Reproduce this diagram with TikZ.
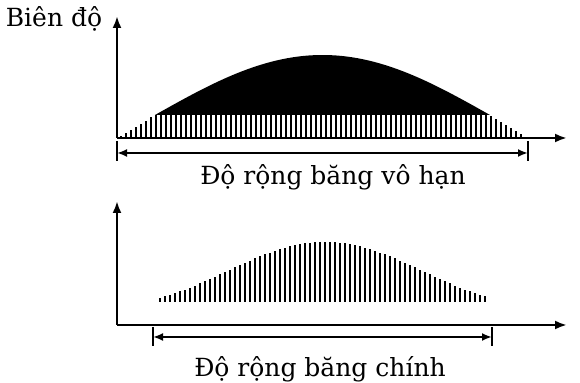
\documentclass[tikz,border=0pt]{standalone}
\usepackage{fontspec}
\setmainfont{DejaVu Serif}
\usetikzlibrary{arrows.meta, positioning, calc}

\begin{document}
\begin{tikzpicture}[>={Latex[length=5pt,width=4pt]}, x=0.5pt, y=-0.5pt,
    axis/.style={line width=1.3pt, -{Latex[length=6pt,width=4.5pt]}},
    bar/.style={line width=1.3pt},
    dim/.style={line width=1pt, <->},
    endtick/.style={line width=0.8pt},
    lbl/.style={font=\fontsize{12.5}{14}\selectfont, inner sep=0pt, anchor=base}]
    \useasboundingbox (0,0) rectangle (580,383);

    % pho voi do rong bang vo han
    \coordinate (o1) at (117,138);
    \coordinate (y1) at (117,16);
    \coordinate (x1) at (567,138);

    \fill[black] plot[domain=155:490, samples=80] (\x, {115-60*sin((\x-155)/335*180)}) -- cycle;
    \foreach \x in {121,126,...,526} {
        \pgfmathsetmacro\h{min(23, (\x-118)/37*23, (528-\x)/38*23)}
        \draw[bar] (\x,138) -- (\x,138-\h);
    }

    \draw[axis] (o1) -- (y1);
    \draw[axis] (o1) -- (x1);
    \node[lbl] (amp) at (54,27) {Biên độ};

    \coordinate (a1) at (117,153);
    \coordinate (b1) at (528,153);
    \draw[endtick] (117,141) -- (117,161);
    \draw[endtick] (528,141) -- (528,161);
    \draw[dim] (a1) -- (b1);
    \node[lbl] (w1) at (333,185) {Độ rộng băng vô hạn};

    % pho voi do rong bang chinh
    \coordinate (o2) at (117,325);
    \coordinate (y2) at (117,201);
    \coordinate (x2) at (567,325);

    \foreach \x in {160,165,...,487} {
        \pgfmathsetmacro\h{60*cos((\x-325)/200*90)^2}
        \draw[bar] (\x,302) -- (\x,302-\h);
    }

    \draw[axis] (o2) -- (y2);
    \draw[axis] (o2) -- (x2);

    \coordinate (a2) at (153,337);
    \coordinate (b2) at (492,337);
    \draw[endtick] (153,327) -- (153,346);
    \draw[endtick] (492,327) -- (492,346);
    \draw[dim] (a2) -- (b2);
    \node[lbl] (w2) at (320,377) {Độ rộng băng chính};

\end{tikzpicture}
\end{document}
